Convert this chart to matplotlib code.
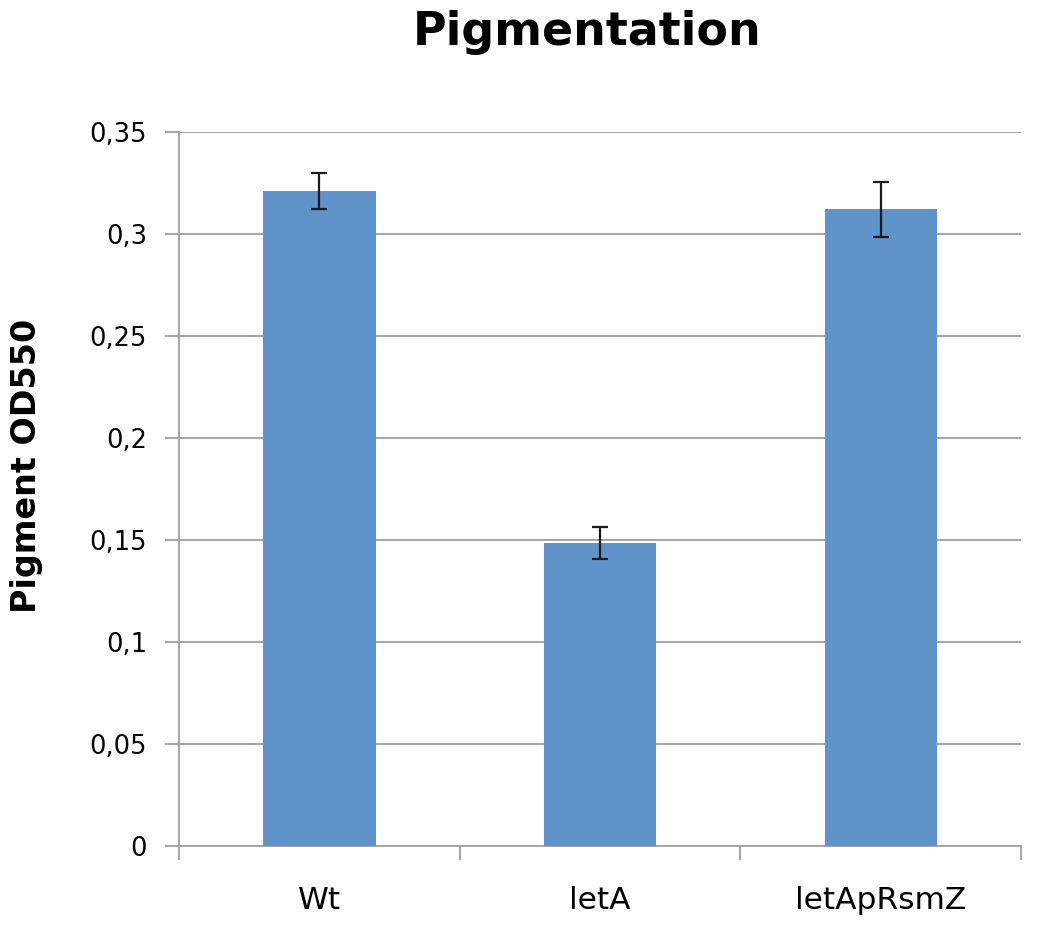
import matplotlib
matplotlib.use('Agg')
import matplotlib.pyplot as plt
import numpy as np

categories = ['Wt', 'letA', 'letApRsmZ']
values = [0.321, 0.1485, 0.312]
errors = [0.009, 0.008, 0.0135]
yticks = [0, 0.05, 0.1, 0.15, 0.2, 0.25, 0.3, 0.35]
ytick_labels = ['0', '0,05', '0,1', '0,15', '0,2', '0,25', '0,3', '0,35']

grid_col = '#a6a6a6'
bar_col = '#6093c9'

fig = plt.figure(figsize=(10.5, 9.3), dpi=100)
ax = fig.add_axes([0.1705, 0.0903, 0.802, 0.768])

x = np.arange(len(categories))
ax.bar(x, values, width=0.4, color=bar_col, zorder=3)
ax.errorbar(x, values, yerr=errors, fmt='none', ecolor='#1a1a1a',
            elinewidth=1.6, capsize=5.5, capthick=1.6, zorder=4)

ax.set_xlim(-0.5, len(categories) - 0.5)
ax.set_ylim(0, 0.35)
ax.set_yticks(yticks)
ax.set_yticklabels(ytick_labels, fontsize=18.5)
ax.yaxis.grid(True, color=grid_col, linewidth=1.5, zorder=0)
ax.set_axisbelow(True)

# category labels in the middle, ticks on the boundaries
ax.set_xticks(x)
ax.set_xticklabels(categories, fontsize=22.5)
ax.tick_params(axis='x', which='major', length=0, pad=29)
ax.set_xticks(np.arange(len(categories) + 1) - 0.5, minor=True)
ax.tick_params(axis='x', which='minor', length=10, width=1.5, color=grid_col, direction='out')
ax.tick_params(axis='y', length=10, width=1.5, color=grid_col, direction='out', pad=13)

for s in ['top', 'right']:
    ax.spines[s].set_visible(False)
for s in ['left', 'bottom']:
    ax.spines[s].set_color(grid_col)
    ax.spines[s].set_linewidth(1.5)

ax.set_ylabel('Pigment OD550', fontsize=24, fontweight='bold')
ax.yaxis.set_label_coords(-0.161, 0.532)
fig.text(0.5595, 1 - 45 / 930, 'Pigmentation', fontsize=33, fontweight='bold',
         ha='center', va='baseline')

fig.savefig('out.png', dpi=100)
